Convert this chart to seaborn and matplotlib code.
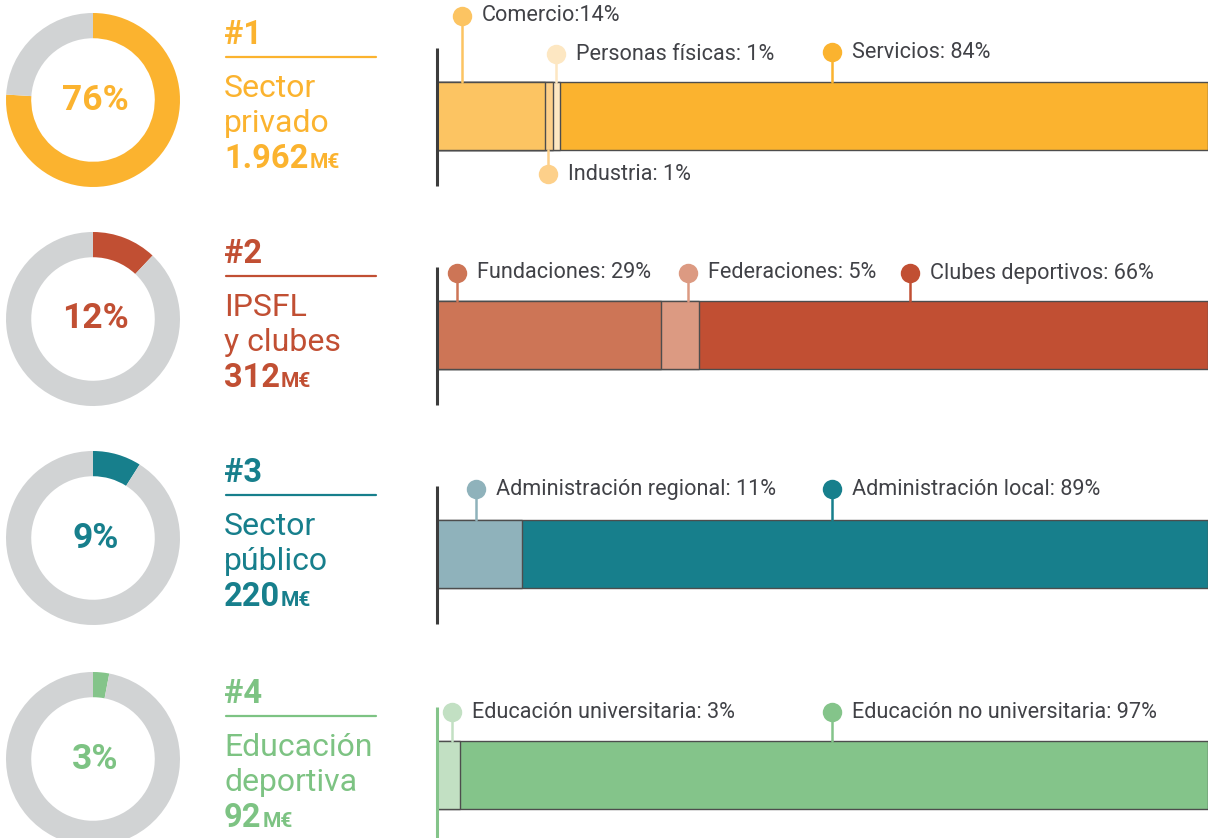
import numpy as np
import matplotlib
matplotlib.use('Agg')
import matplotlib.pyplot as plt
from matplotlib.lines import Line2D
import seaborn as sns

sns.set_theme(style="white")
plt.rcParams['font.family'] = ['Roboto', 'DejaVu Sans']

# ---- data ----
ranks = ['#1', '#2', '#3', '#4']
sector_lines = [['Sector', 'privado'], ['IPSFL', 'y clubes'],
                ['Sector', 'público'], ['Educación', 'deportiva']]
share = [76, 12, 9, 3]
amounts = ['1.962', '312', '220', '92']

seg_names = [
    ['Comercio:', 'Industria: ', 'Personas físicas: ', 'Servicios: '],
    ['Fundaciones: ', 'Federaciones: ', 'Clubes deportivos: '],
    ['Administración regional: ', 'Administración local: '],
    ['Educación universitaria: ', 'Educación no universitaria: '],
]
seg_values = [[14, 1, 1, 84], [29, 5, 66], [11, 89], [3, 97]]

# ---- colours ----
main_colors = ['#FBB32F', '#C14F33', '#177F8C', '#84C48A']
title_colors = ['#FBB32F', '#C14F33', '#177F8C', '#7DC383']
seg_colors = [
    ['#FCC462', '#FDD08A', '#FDE7C2', '#FBB32F'],
    ['#CD7556', '#DC9A82', '#C14F33'],
    ['#8FB2BB', '#177F8C'],
    ['#C2E0C3', '#84C48A'],
]
ring_gray = '#D1D3D4'
label_color = '#414247'
edge_color = '#4D4D4D'
axis_colors = ['#3C3C3C', '#3C3C3C', '#3C3C3C', '#84C48A']

# ---- layout (pixels) ----
callout_x = [[3.2, 14.4, 15.4, 51.2], [2.6, 32.6, 61.3], [5.1, 51.2], [1.9, 51.2]]
callout_dy = [[66, -24, 28, 30], [28, 28, 28], [31, 31], [29, 29]]
row_y0 = [0, 219, 438, 659]
W, H = 1208, 838
BAR_H = 68


def rect(x, y, w, h):
    return [x / W, 1 - (y + h) / H, w / W, h / H]


def fy(y):
    return 1 - y / H


fig = plt.figure(figsize=(W / 100, H / 100), dpi=100)

for i in range(4):
    y0 = row_y0[i]
    tc = title_colors[i]

    # donut
    ax = fig.add_axes(rect(6, y0 + 13, 174, 174))
    ax.pie([share[i], 100 - share[i]], colors=[main_colors[i], ring_gray],
           startangle=90, counterclock=False,
           wedgeprops=dict(width=0.29, linewidth=0))
    ax.set_xlim(-1.0, 1.0)
    ax.set_ylim(-1.0, 1.0)
    ax.text(0.03, 0, f'{share[i]}%', ha='center', va='center',
            fontsize=25.5, fontweight='bold', color=tc)

    # title block
    fig.text(224 / W, fy(y0 + 44), ranks[i], fontsize=23.5, fontweight='bold',
             color=tc, va='baseline')
    fig.add_artist(Line2D([226 / W, 376 / W], [fy(y0 + 57)] * 2,
                          color=tc, lw=1.6))
    fig.text(224 / W, fy(y0 + 97), sector_lines[i][0], fontsize=23,
             color=tc, va='baseline')
    fig.text(224 / W, fy(y0 + 132), sector_lines[i][1], fontsize=23,
             color=tc, va='baseline')
    t_amt = fig.text(224 / W, fy(y0 + 168), amounts[i], fontsize=23.5,
                     fontweight='bold', color=tc, va='baseline')
    fig.canvas.draw()
    bb = t_amt.get_window_extent()
    fig.text(bb.x1 / W + 1 / W, fy(y0 + 168), 'M€', fontsize=15,
             fontweight='bold', color=tc, va='baseline')

    # stacked bar (overplot cumulative totals, largest first)
    ax = fig.add_axes(rect(437, y0 + 82, W - 437, BAR_H))
    vals = seg_values[i]
    cum = np.cumsum(vals)
    for k in reversed(range(len(vals))):
        sns.barplot(x=[cum[k]], y=[0], orient='h', color=seg_colors[i][k],
                    saturation=1, width=1, edgecolor=edge_color, linewidth=1,
                    errorbar=None, ax=ax)
    for p in ax.patches:
        p.set_clip_on(False)
    ax.set_xlim(0, 100)
    ax.set_ylim(-0.5, 0.5)
    ax.set_axis_off()

    ax.plot([0, 0], [-0.5 - 36 / BAR_H, 0.5 + 34 / BAR_H],
            color=axis_colors[i], lw=2.2, clip_on=False, solid_capstyle='butt')

    # callouts
    for k in range(len(vals)):
        c = seg_colors[i][k]
        x = callout_x[i][k]
        dy = callout_dy[i][k]
        base = 0.5 if dy > 0 else -0.5
        ym = base + dy / BAR_H
        ax.plot([x, x], [base, ym], color=c, lw=1.8, clip_on=False, zorder=5)
        ax.plot([x], [ym], 'o', ms=14, color=c, mec='none', clip_on=False,
                zorder=6)
        ax.annotate(f'{seg_names[i][k]}{vals[k]}%', xy=(x, ym),
                    xytext=(14.5, 0), textcoords='offset points', va='center',
                    ha='left', fontsize=15.6, color=label_color,
                    annotation_clip=False)

fig.savefig('out.png', dpi=100)
